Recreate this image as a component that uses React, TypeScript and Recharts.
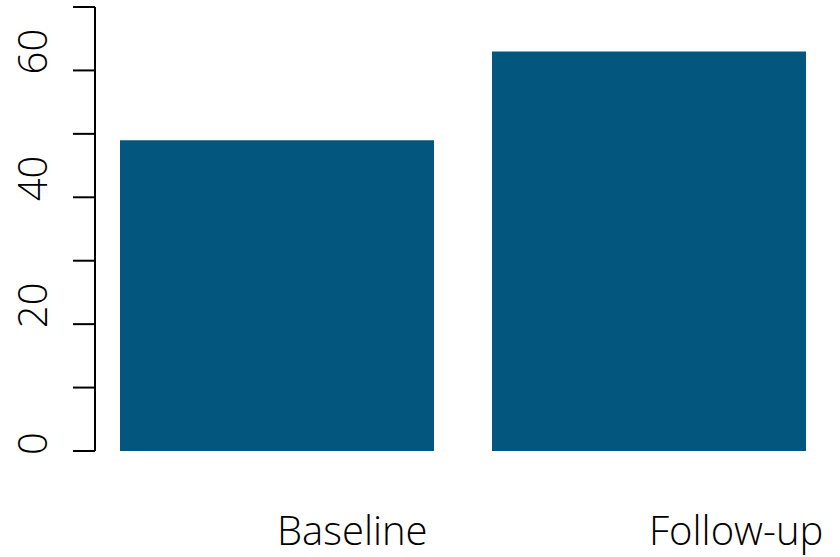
import React from "react";
import { BarChart, Bar, XAxis, YAxis } from "recharts";

const categories = ["Baseline", "Follow-up"];
const values = [49, 63];
const yTicks = [0, 10, 20, 30, 40, 50, 60, 70];
const yLabels = [0, 20, 40, 60];

const data = categories.map((c, i) => ({ name: c, value: values[i] }));

const FONT = "'Open Sans', 'Noto Sans', sans-serif";

const YTick = (props: any) => {
  const { x, y, payload } = props;
  const v = payload.value;
  if (!yLabels.includes(v)) return null;
  const bx = x - 26;
  const by = y + 4;
  return (
    <text
      x={bx}
      y={by}
      transform={`rotate(-90, ${bx}, ${by})`}
      textAnchor="start"
      fontFamily={FONT}
      fontWeight={300}
      fontSize={40}
      fill="#000"
    >
      {v}
    </text>
  );
};

const XTick = (props: any) => {
  const { x, y, payload } = props;
  return (
    <text
      x={x}
      y={y + 94}
      textAnchor="start"
      fontFamily={FONT}
      fontWeight={300}
      fontSize={40}
      fill="#000"
    >
      {payload.value}
    </text>
  );
};

export default function App() {
  return (
    <div style={{ position: "absolute", left: 0, top: 0, background: "#fff" }}>
      <BarChart
        width={840}
        height={557}
        data={data}
        margin={{ top: 7, right: 5, bottom: 0, left: 0 }}
        barCategoryGap={29}
      >
        <XAxis
          dataKey="name"
          axisLine={false}
          tickLine={false}
          tickSize={0}
          tickMargin={0}
          height={106}
          tick={<XTick />}
          interval={0}
          padding={{ left: -4, right: 0 }}
        />
        <YAxis
          width={95}
          domain={[0, 70]}
          ticks={yTicks}
          interval={0}
          tickSize={22}
          tickMargin={0}
          axisLine={{ stroke: "#000", strokeWidth: 2 }}
          tickLine={{ stroke: "#000", strokeWidth: 2 }}
          tick={<YTick />}
        />
        <Bar dataKey="value" fill="#03567E" isAnimationActive={false} />
      </BarChart>
    </div>
  );
}
